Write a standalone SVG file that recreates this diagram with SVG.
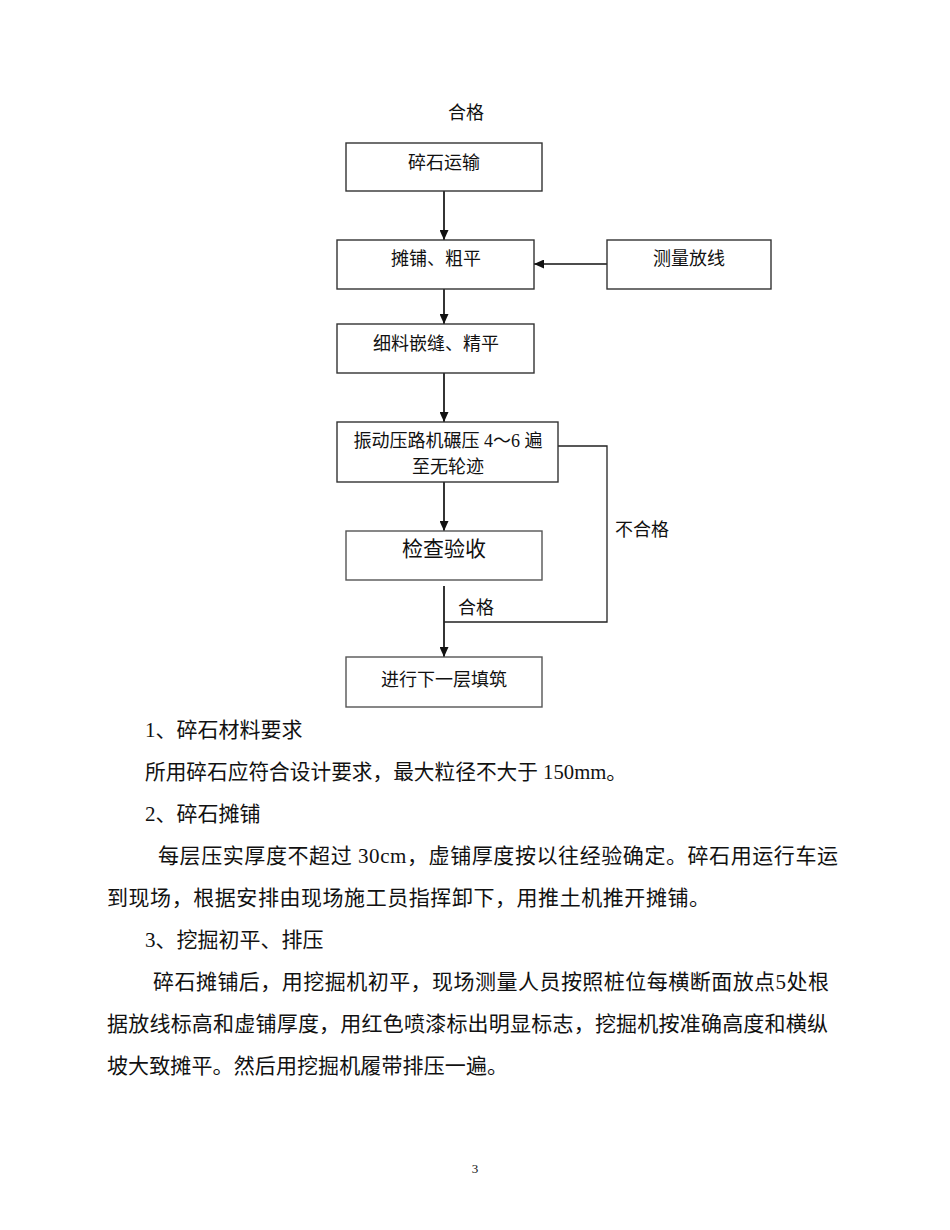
<svg xmlns="http://www.w3.org/2000/svg" width="950" height="1230" viewBox="0 0 950 1230">
<style>
text{font-family:"Liberation Serif","Noto Sans CJK SC",serif;fill:#111;}
.f18{font-size:18px;}
.f21{font-size:21px;}
.c{text-anchor:middle;}
.box{fill:#fff;stroke:#333;stroke-width:1.4;}
.box2{fill:#fff;stroke:#555;stroke-width:1.4;}
.ln{fill:none;stroke:#111;stroke-width:1.7;}
.fb{fill:none;stroke:#222;stroke-width:1.3;}
</style>
<defs>
<marker id="ah" markerUnits="userSpaceOnUse" markerWidth="10" markerHeight="9" refX="10" refY="4.5" orient="auto">
<path d="M0,0 L10,4.5 L0,9 z" fill="#111"/>
</marker>
</defs>
<rect width="950" height="1230" fill="#fff"/>
<text class="f18 c" x="466" y="119">合格</text>
<g id="connectors">
<line class="ln" x1="444" y1="191" x2="444" y2="240" marker-end="url(#ah)"/>
<line class="ln" x1="607" y1="264" x2="534" y2="264" marker-end="url(#ah)"/>
<line class="ln" x1="444" y1="289" x2="444" y2="324" marker-end="url(#ah)"/>
<line class="ln" x1="444" y1="373" x2="444" y2="422" marker-end="url(#ah)"/>
<line class="ln" x1="444" y1="482" x2="444" y2="531" marker-end="url(#ah)"/>
<line class="ln" x1="444" y1="586" x2="444" y2="657" marker-end="url(#ah)"/>
<polyline class="fb" points="558,446 607,446 607,622 444,622"/>
<text class="f18" x="615" y="536">不合格</text>
<text class="f18" x="458" y="614">合格</text>
</g>
<g id="n1"><rect class="box" x="346" y="143" width="196" height="48"/><text class="f18 c" x="444" y="169">碎石运输</text></g>
<g id="n2"><rect class="box" x="337" y="240" width="197" height="49"/><text class="f18 c" x="436" y="265">摊铺、粗平</text></g>
<g id="n3"><rect class="box" x="607" y="240" width="164" height="49"/><text class="f18 c" x="689" y="265">测量放线</text></g>
<g id="n4"><rect class="box" x="337" y="324" width="197" height="49"/><text class="f18 c" x="436" y="350">细料嵌缝、精平</text></g>
<g id="n5"><rect class="box" x="337" y="422" width="221" height="60"/><text class="f18 c" x="448" y="447">振动压路机碾压 4～6 遍</text><text class="f18 c" x="448" y="473">至无轮迹</text></g>
<g id="n6"><rect class="box2" x="346" y="531" width="196" height="49"/><text class="f21 c" x="444" y="556">检查验收</text></g>
<g id="n7"><rect class="box2" x="346" y="657" width="196" height="50"/><text class="f18 c" x="444" y="686">进行下一层填筑</text></g>
<g id="body">
<text class="f21" x="145" y="737">1、碎石材料要求</text>
<text class="f21" x="145" y="779" textLength="482" lengthAdjust="spacingAndGlyphs">所用碎石应符合设计要求，最大粒径不大于 150mm。</text>
<text class="f21" x="145" y="821">2、碎石摊铺</text>
<text class="f21" x="158" y="863" textLength="680" lengthAdjust="spacing">每层压实厚度不超过 30cm，虚铺厚度按以往经验确定。碎石用运行车运</text>
<text class="f21" x="107" y="905" textLength="603" lengthAdjust="spacing">到现场，根据安排由现场施工员指挥卸下，用推土机推开摊铺。</text>
<text class="f21" x="145" y="947">3、挖掘初平、排压</text>
<text class="f21" x="153" y="989" textLength="676" lengthAdjust="spacing">碎石摊铺后，用挖掘机初平，现场测量人员按照桩位每横断面放点5处根</text>
<text class="f21" x="107" y="1031" textLength="721" lengthAdjust="spacing">据放线标高和虚铺厚度，用红色喷漆标出明显标志，挖掘机按准确高度和横纵</text>
<text class="f21" x="107" y="1073" textLength="401" lengthAdjust="spacing">坡大致摊平。然后用挖掘机履带排压一遍。</text>
<text x="475" y="1173" font-size="13" text-anchor="middle">3</text>
</g>
</svg>
